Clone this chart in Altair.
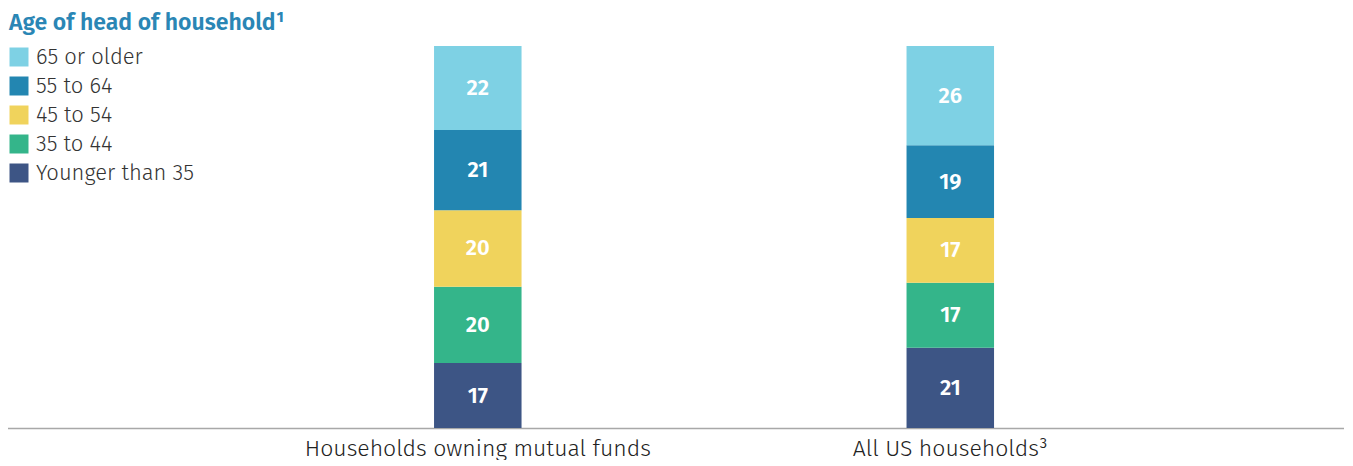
import altair as alt
import pandas as pd

groups = ["Households owning mutual funds", "All US households³"]
ages = ["Younger than 35", "35 to 44", "45 to 54", "55 to 64", "65 or older"]
owning = [17, 20, 20, 21, 22]
all_us = [21, 17, 17, 19, 26]
colors = ["#3d5585", "#34b58a", "#f0d35c", "#2386b1", "#7ed1e4"]

rows = []
for g, vals in zip(groups, [owning, all_us]):
    for i, (a, v) in enumerate(zip(ages, vals)):
        rows.append({"group": g, "age": a, "value": v, "ord": i})
df = pd.DataFrame(rows)

legend_order = ages[::-1]
legend_colors = colors[::-1]
FONT = "Fira Sans, Open Sans, sans-serif"

base = alt.Chart(df).transform_stack(
    stack="value", groupby=["group"], as_=["y0", "y1"], sort=[alt.SortField("ord", order="ascending")]
).transform_calculate(mid="(datum.y0 + datum.y1) / 2")

xenc = alt.X("group:N", sort=groups, title=None,
             scale=alt.Scale(paddingInner=0.8148, paddingOuter=0.8307, align=0.544),
             axis=alt.Axis(labelAngle=0, labelFontSize=23, labelColor="#222222", labelFont=FONT,
                           labelFontWeight=300, labelLimit=0,
                           ticks=False, domainColor="#a8a8a8", domainWidth=1.5, labelPadding=9))

bars = base.mark_bar().encode(
    x=xenc,
    y=alt.Y("y0:Q", scale=alt.Scale(domain=[0, 100]), axis=None),
    y2="y1:Q",
    color=alt.Color("age:N", scale=alt.Scale(domain=legend_order, range=legend_colors),
                    legend=alt.Legend(title=None, orient="none", legendX=1, legendY=0,
                                      symbolType="square", symbolSize=361, symbolStrokeWidth=0,
                                      symbolOpacity=1, labelFontSize=22, labelFontWeight=300,
                                      labelColor="#333333",
                                      labelFont=FONT, rowPadding=7, padding=0, labelOffset=6)),
)

labels = base.mark_text(color="white", fontSize=22, fontWeight=600, font=FONT).encode(
    x=alt.X("group:N", sort=groups),
    y=alt.Y("mid:Q"),
    text="value:Q",
)

chart = (bars + labels).properties(
    width=1345, height=382,
    title=alt.TitleParams("Age of head of household¹", anchor="start", fontSize=23, fontWeight=600,
                          color="#2a86b5", font=FONT, offset=11, dx=2),
).configure(padding={"left": -1, "top": 4, "right": -8, "bottom": 0}).configure_view(strokeWidth=0)

chart.save("out.html", embed_options={"renderer": "svg", "actions": False})
